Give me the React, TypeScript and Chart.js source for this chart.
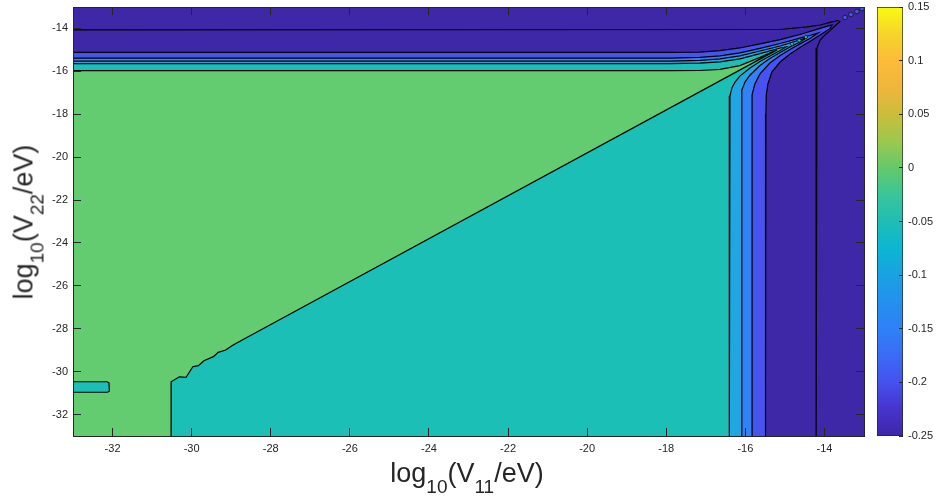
import React, { useEffect, useRef } from "react";
import { Chart, registerables } from "chart.js";

Chart.register(...registerables);

const FONT = "'Liberation Sans', Arial, Helvetica, sans-serif";
const AXIS_COLOR = "#262626";

// ---- axes ----
const X_RANGE = [-33, -13];
const Y_RANGE = [-33, -13];
const X_TICKS = [-32, -30, -28, -26, -24, -22, -20, -18, -16, -14];
const Y_TICKS = [-32, -30, -28, -26, -24, -22, -20, -18, -16, -14];
const CB_RANGE = [-0.25, 0.15];
const CB_TICKS = [-0.25, -0.2, -0.15, -0.1, -0.05, 0, 0.05, 0.1, 0.15];

// ---- filled contour regions (data units: log10 V11, log10 V22) ----
const FULL_REGION = [[-33, -33], [-33, -13], [-13, -13], [-13, -33]];
const REGION_CORNER = [-33, -33];

// level -0.25 contour (only a line, both sides share the darkest colour)
const CONTOUR_M025 = [
  [-33, -14.07], [-15.12, -14.05], [-14.44, -13.93], [-14.11, -13.84], [-13.86, -13.72],
  [-13.66, -13.63], [-13.61, -13.68], [-13.71, -13.84], [-13.86, -14.1], [-13.99, -14.31],
  [-14.11, -14.54], [-14.19, -14.91], [-14.21, -15.47], [-14.21, -33],
];
const CONTOUR_M020 = [
  [-33, -15.12], [-17.91, -15.12], [-17.15, -15.1], [-16.64, -15.03], [-16.14, -14.91],
  [-15.63, -14.72], [-15.12, -14.52], [-14.62, -14.28], [-14.11, -14.0], [-13.86, -13.86],
  [-13.81, -13.84], [-13.86, -14.0], [-14.11, -14.31], [-14.37, -14.61], [-14.62, -14.89],
  [-14.87, -15.19], [-15.12, -15.56], [-15.33, -16.03], [-15.43, -16.59], [-15.47, -17.1],
  [-15.48, -18.0], [-15.49, -33],
];
const CONTOUR_M015 = [
  [-33, -15.38], [-17.91, -15.38], [-17.15, -15.35], [-16.64, -15.28], [-16.14, -15.14],
  [-15.63, -14.93], [-15.12, -14.7], [-14.62, -14.45], [-14.37, -14.33], [-14.16, -14.21],
  [-14.37, -14.47], [-14.62, -14.72], [-14.87, -14.98], [-15.12, -15.26], [-15.38, -15.61],
  [-15.63, -16.12], [-15.76, -16.59], [-15.83, -17.1], [-15.83, -18.0], [-15.83, -33],
];
const CONTOUR_M010 = [
  [-33, -15.52], [-17.91, -15.52], [-17.15, -15.49], [-16.64, -15.42], [-16.14, -15.28],
  [-15.63, -15.05], [-15.12, -14.82], [-14.62, -14.54], [-14.42, -14.4], [-14.62, -14.63],
  [-14.87, -14.86], [-15.12, -15.12], [-15.38, -15.4], [-15.63, -15.73], [-15.88, -16.17],
  [-16.01, -16.5], [-16.09, -16.87], [-16.09, -18.0], [-16.09, -33],
];
const CONTOUR_M005 = [
  [-33, -15.64], [-17.91, -15.64], [-17.15, -15.62], [-16.64, -15.56], [-16.14, -15.42],
  [-15.63, -15.17], [-15.12, -14.91], [-14.97, -14.86], [-15.12, -15.03], [-15.38, -15.28],
  [-15.63, -15.54], [-15.88, -15.84], [-16.14, -16.22], [-16.26, -16.5], [-16.34, -16.78],
  [-16.39, -17.15], [-16.4, -18.0], [-16.41, -33],
];
const CONTOUR_000 = [
  [-33, -15.97], [-17.91, -15.97], [-17.15, -15.96], [-16.64, -15.91], [-16.14, -15.73],
  [-15.63, -15.35], [-15.2, -15.0], [-28.71, -28.51], [-28.95, -28.76], [-29.14, -28.99],
  [-29.33, -29.1], [-29.45, -29.3], [-29.69, -29.49], [-29.83, -29.72], [-29.97, -29.77],
  [-30.14, -30.26], [-30.31, -30.24], [-30.52, -30.47], [-30.52, -33],
];
const ISLAND_M005 = [
  [-33, -30.47], [-32.14, -30.47], [-32.09, -30.52], [-32.08, -30.91], [-32.13, -30.96], [-33, -30.96],
];
const PINCH_ISLANDS = [[-13.48, -13.49], [-13.33, -13.35], [-13.18, -13.21], [-13.05, -13.08]];
const TEAL_ISLANDS = [[-14.82, -14.72], [-14.64, -14.56], [-14.47, -14.4]];

// ---- colours ----
const C_DARK = "#3e28a8";
const C_VIOLET = "#4852ee";
const C_BLUE = "#3282f5";
const C_LIGHTBLUE = "#20a6e0";
const C_TEAL = "#1bbfb5";
const C_GREEN = "#63cb70";
const PARULA = [
  "#3e26a8", "#4634cc", "#4551ee", "#3b6bf6", "#2f81f7", "#2490ee", "#1aa1e3", "#0cb6d2",
  "#20bdb5", "#3ac599", "#64c96a", "#9cc84e", "#cbbd3b", "#f0b53d", "#fcbb3a", "#f6d42b", "#f9fb0e",
];

const toPts = (arr: number[][]) => arr.map(([x, y]) => ({ x, y }));

function region(contour: number[][], color: string, closeCorner = true) {
  const pts = closeCorner ? [...contour, REGION_CORNER] : contour;
  return {
    type: "line",
    data: toPts(pts),
    fill: "shape",
    backgroundColor: color,
    borderColor: "rgba(0,0,0,0)",
    borderWidth: 0,
    pointRadius: 0,
    tension: 0,
  };
}
function contourLine(contour: number[][]) {
  return {
    type: "line",
    data: toPts(contour),
    fill: false,
    borderColor: "#000000",
    borderWidth: 1.2,
    pointRadius: 0,
    tension: 0,
  };
}
function dots(points: number[][], color: string, style: string, r: number) {
  return {
    type: "scatter",
    data: toPts(points),
    pointStyle: style,
    pointRadius: r,
    pointBackgroundColor: color,
    pointBorderColor: "#111111",
    pointBorderWidth: 0.8,
    showLine: false,
  };
}

const zeroPad = (s: any) => {
  s.paddingLeft = 0;
  s.paddingRight = 0;
  s.paddingTop = 0;
  s.paddingBottom = 0;
};
const setTicks = (vals: number[]) => (axis: any) => {
  axis.ticks = vals.map((v) => ({ value: v }));
};

export default function App() {
  const mainRef = useRef<HTMLCanvasElement | null>(null);
  const cbRef = useRef<HTMLCanvasElement | null>(null);

  useEffect(() => {
    const painter: any[] = [
      region(FULL_REGION, C_DARK, false),
      region(CONTOUR_M020, C_VIOLET),
      region(CONTOUR_M015, C_BLUE),
      region(CONTOUR_M010, C_LIGHTBLUE),
      region(CONTOUR_M005, C_TEAL),
      region(CONTOUR_000, C_GREEN),
      region(ISLAND_M005, C_TEAL, false),
      contourLine(CONTOUR_M020),
      contourLine(CONTOUR_M015),
      contourLine(CONTOUR_M010),
      contourLine(CONTOUR_M005),
      contourLine(CONTOUR_000),
      contourLine(ISLAND_M005),
      contourLine(CONTOUR_M025),
      dots(PINCH_ISLANDS, C_VIOLET, "circle", 2.3),
      dots(TEAL_ISLANDS, C_TEAL, "rectRot", 2),
    ];
    const datasets = painter.slice().reverse();

    const tickFont = { family: FONT, size: 11 };
    const gridOpts = (len: number) => ({
      drawOnChartArea: false,
      drawTicks: true,
      tickLength: len,
      color: AXIS_COLOR,
      lineWidth: 1,
      z: 1,
    });
    const borderOpts = { display: true, color: AXIS_COLOR, width: 1, z: 1 };

    const main = new Chart(mainRef.current as HTMLCanvasElement, {
      type: "line",
      data: { datasets },
      options: {
        responsive: false,
        animation: false,
        events: [],
        layout: { padding: 0 },
        plugins: { legend: { display: false }, tooltip: { enabled: false } },
        scales: {
          x: {
            type: "linear",
            position: "bottom",
            min: X_RANGE[0],
            max: X_RANGE[1],
            afterBuildTicks: setTicks(X_TICKS),
            ticks: { padding: 14, color: AXIS_COLOR, font: tickFont, maxRotation: 0, autoSkip: false },
            grid: gridOpts(-8),
            border: borderOpts,
            afterFit: (s: any) => { s.height = 67; zeroPad(s); },
          },
          x2: {
            type: "linear",
            position: "top",
            min: X_RANGE[0],
            max: X_RANGE[1],
            afterBuildTicks: setTicks(X_TICKS),
            ticks: { display: false },
            grid: gridOpts(-8),
            border: borderOpts,
            afterFit: (s: any) => { s.height = 7; zeroPad(s); },
          },
          y: {
            type: "linear",
            position: "left",
            min: Y_RANGE[0],
            max: Y_RANGE[1],
            afterBuildTicks: setTicks(Y_TICKS),
            ticks: { padding: 13, color: AXIS_COLOR, font: tickFont, autoSkip: false },
            grid: gridOpts(-8),
            border: borderOpts,
            afterFit: (s: any) => { s.width = 73; zeroPad(s); },
          },
          y2: {
            type: "linear",
            position: "right",
            min: Y_RANGE[0],
            max: Y_RANGE[1],
            afterBuildTicks: setTicks(Y_TICKS),
            ticks: { display: false },
            grid: gridOpts(-8),
            border: borderOpts,
            afterFit: (s: any) => { s.width = 6; zeroPad(s); },
          },
        },
      } as any,
    } as any);

    const cb = new Chart(cbRef.current as HTMLCanvasElement, {
      type: "bar",
      data: {
        labels: ["level"],
        datasets: [
          {
            data: [[CB_RANGE[0], CB_RANGE[1]]],
            backgroundColor: (ctx: any) => {
              const a = ctx.chart.chartArea;
              if (!a) return PARULA[0];
              const g = ctx.chart.ctx.createLinearGradient(0, a.bottom, 0, a.top);
              PARULA.forEach((c, i) => g.addColorStop(i / (PARULA.length - 1), c));
              return g;
            },
            borderColor: AXIS_COLOR,
            borderWidth: 1,
            borderSkipped: false,
            barPercentage: 1,
            categoryPercentage: 1,
          },
        ],
      },
      options: {
        responsive: false,
        animation: false,
        events: [],
        layout: { padding: { left: 7, top: 7, bottom: 67, right: 0 } },
        plugins: { legend: { display: false }, tooltip: { enabled: false } },
        scales: {
          x: { display: false },
          y: {
            position: "right",
            min: CB_RANGE[0],
            max: CB_RANGE[1],
            afterBuildTicks: setTicks(CB_TICKS),
            ticks: {
              padding: 9,
              color: AXIS_COLOR,
              font: tickFont,
              autoSkip: false,
              callback: (v: any) => String(Math.round(Number(v) * 100) / 100),
            },
            grid: gridOpts(-4),
            border: { display: false },
            afterFit: (s: any) => { s.width = 34; zeroPad(s); },
          },
        },
      } as any,
    } as any);

    return () => {
      main.destroy();
      cb.destroy();
    };
  }, []);

  const sub: React.CSSProperties = { fontSize: 19, position: "relative", top: 10.7 };
  const titleBase: React.CSSProperties = {
    position: "absolute",
    fontFamily: FONT,
    fontSize: 27,
    lineHeight: "27px",
    color: AXIS_COLOR,
    whiteSpace: "nowrap",
  };

  return (
    <div style={{ position: "fixed", left: 0, top: 0, width: 937, height: 503, background: "#ffffff", overflow: "hidden" }}>
      <canvas ref={mainRef} width={870} height={503} style={{ position: "absolute", left: 0, top: 0 }} />
      <canvas ref={cbRef} width={67} height={503} style={{ position: "absolute", left: 870, top: 0 }} />
      <div style={{ ...titleBase, left: 467, top: 460, transform: "translateX(-50%)" }}>
        log<span style={sub}>10</span>(V<span style={sub}>11</span>/eV)
      </div>
      <div style={{ ...titleBase, left: 25, top: 222, transform: "translate(-50%, -50%) rotate(-90deg)" }}>
        log<span style={sub}>10</span>(V<span style={sub}>22</span>/eV)
      </div>
    </div>
  );
}
